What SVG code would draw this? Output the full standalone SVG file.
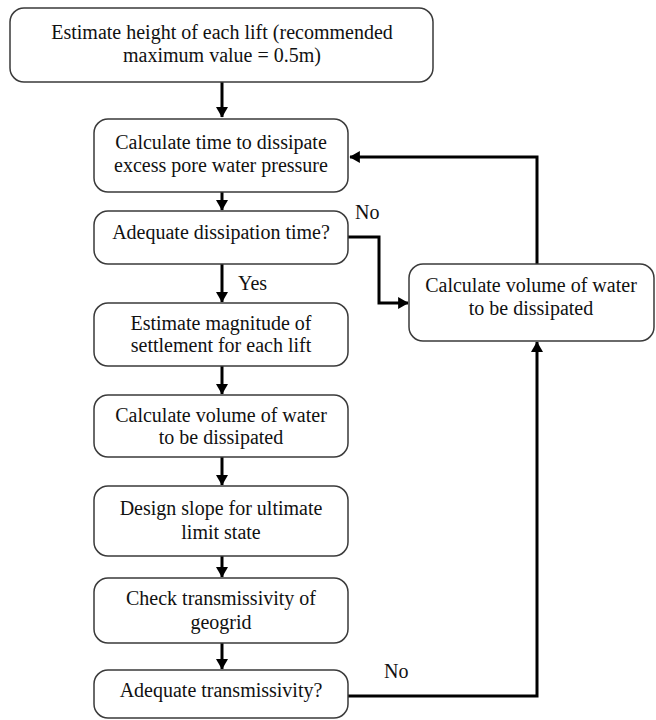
<svg xmlns="http://www.w3.org/2000/svg" width="656" height="720" viewBox="0 0 656 720">
<defs>
<marker id="ah" markerWidth="4" markerHeight="4" refX="3.3" refY="2" orient="auto" markerUnits="strokeWidth">
<path d="M0,0 L3.5,2 L0,4 Z" fill="#000"/>
</marker>
<style>
.box{fill:#fff;stroke:#3a3a3a;stroke-width:1.5}
.t{font-size:20px;fill:#111;text-anchor:middle}
.l{font-size:20px;fill:#111}
.c{fill:none;stroke:#000;stroke-width:3;marker-end:url(#ah)}
</style>
</defs>
<rect width="656" height="720" fill="#fff"/>
<g font-family="Liberation Serif, Tinos, Times New Roman, Noto Serif, DejaVu Serif, serif">
<g id="connectors">
<path class="c" d="M222,82 L222,117"/>
<path class="c" d="M222,192 L222,210"/>
<path class="c" d="M222,264 L222,302"/>
<path class="c" d="M222,366 L222,394"/>
<path class="c" d="M222,457 L222,485"/>
<path class="c" d="M222,556 L222,577"/>
<path class="c" d="M222,643 L222,669"/>
<path class="c" d="M348,237 L379,237 L379,303 L408,303"/>
<path class="c" d="M537,264 L537,157 L350,157"/>
<path class="c" d="M348,696 L537,696 L537,342"/>
<text class="l" x="355" y="219">No</text>
<text class="l" x="238" y="290">Yes</text>
<text class="l" x="384" y="678">No</text>
</g>
<g id="n1">
<rect class="box" x="10" y="8" width="423" height="74" rx="14"/>
<text class="t" x="222" y="39">Estimate height of each lift (recommended</text>
<text class="t" x="222" y="62">maximum value = 0.5m)</text>
</g>
<g id="n2">
<rect class="box" x="94" y="119" width="254" height="73" rx="14"/>
<text class="t" x="221" y="149">Calculate time to dissipate</text>
<text class="t" x="221" y="172">excess pore water pressure</text>
</g>
<g id="n3">
<rect class="box" x="94" y="211" width="254" height="53" rx="14"/>
<text class="t" x="221" y="239">Adequate dissipation time?</text>
</g>
<g id="n4">
<rect class="box" x="94" y="303" width="254" height="63" rx="14"/>
<text class="t" x="221" y="330">Estimate magnitude of</text>
<text class="t" x="221" y="352">settlement for each lift</text>
</g>
<g id="n5">
<rect class="box" x="94" y="395" width="254" height="62" rx="14"/>
<text class="t" x="221" y="422">Calculate volume of water</text>
<text class="t" x="221" y="444">to be dissipated</text>
</g>
<g id="n6">
<rect class="box" x="94" y="486" width="254" height="70" rx="14"/>
<text class="t" x="221" y="515">Design slope  for ultimate</text>
<text class="t" x="221" y="539">limit state</text>
</g>
<g id="n7">
<rect class="box" x="94" y="578" width="254" height="65" rx="14"/>
<text class="t" x="221" y="605">Check transmissivity of</text>
<text class="t" x="221" y="629">geogrid</text>
</g>
<g id="n8">
<rect class="box" x="94" y="670" width="254" height="48" rx="14"/>
<text class="t" x="221" y="697">Adequate transmissivity?</text>
</g>
<g id="n9">
<rect class="box" x="409" y="264" width="245" height="77" rx="14"/>
<text class="t" x="531" y="292">Calculate volume of water</text>
<text class="t" x="531" y="315">to be dissipated</text>
</g>
</g>
</svg>
